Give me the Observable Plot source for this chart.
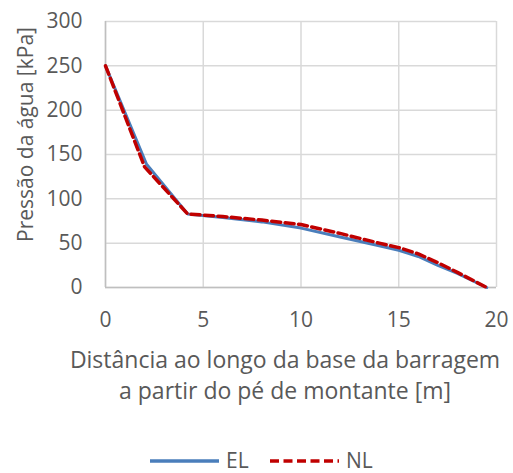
<!DOCTYPE html>
<html><head><meta charset="utf-8">
<script src="https://cdn.jsdelivr.net/npm/d3@7"></script>
<script src="https://cdn.jsdelivr.net/npm/@observablehq/plot@0.6"></script>
<style>
body{margin:0;background:#fff;font-family:"Open Sans",sans-serif}
#chart{position:relative;width:513px;height:473px;overflow:hidden}
#legend{position:absolute;left:0;top:447px;width:513px;height:28px}
</style>
</head><body>
<div id="chart"></div>
<script>
// Data
const seriesNames = ["EL", "NL"];
const distEL = [0, 2.1, 4.2, 6, 8, 10, 12, 14, 15, 16, 17, 18, 19.5];
const presEL = [250, 139, 83, 79, 74, 67, 57, 47, 42, 35, 25, 16, 0];
const distNL = [0, 2.0, 4.2, 6, 8, 10, 12, 14, 15, 16, 17, 18, 19.5];
const presNL = [250, 136, 83, 80, 76, 71, 61, 50, 45, 38, 28, 17, 0];
const xTicks = [0, 5, 10, 15, 20];
const yTicks = [0, 50, 100, 150, 200, 250, 300];
const xTitle = ["Distância ao longo da base da barragem", "a partir do pé de montante [m]"];
const yTitle = "Pressão da água [kPa]";

const colors = {EL: "#4a7ebb", NL: "#c00000"};
const el = distEL.map((d, i) => ({x: d, y: presEL[i], s: "EL"}));
const nl = distNL.map((d, i) => ({x: d, y: presNL[i], s: "NL"}));

const fs = 21;
const font = "'Open Sans', sans-serif";
const plot = Plot.plot({
  width: 513, height: 440, marginLeft: 105, marginRight: 17, marginTop: 21, marginBottom: 153,
  x: {domain: [0, 20], ticks: xTicks},
  y: {domain: [0, 300], ticks: yTicks},
  style: {fontFamily: font, fontSize: fs + "px", color: "#595959", background: "#fff"},
  marks: [
    Plot.gridX(xTicks, {stroke: "#d9d9d9", strokeOpacity: 1, strokeWidth: 1.5}),
    Plot.gridY(yTicks, {stroke: "#d9d9d9", strokeOpacity: 1, strokeWidth: 1.5}),
    Plot.ruleX([0], {stroke: "#bfbfbf", strokeWidth: 1.5}),
    Plot.ruleY([0], {stroke: "#bfbfbf", strokeWidth: 1.5}),
    Plot.axisX(xTicks, {tickSize: 0, tickPadding: 24.5, label: null, fontSize: fs, fill: "#595959"}),
    Plot.axisY(yTicks, {tickSize: 0, tickPadding: 23, label: null, fontSize: fs, fill: "#595959"}),
    Plot.line(el, {x: "x", y: "y", stroke: colors.EL, strokeWidth: 3, strokeLinejoin: "round"}),
    Plot.line(nl, {x: "x", y: "y", stroke: colors.NL, strokeWidth: 3.5, strokeDasharray: "9,4.5"}),
    Plot.text([xTitle[0]], {frameAnchor: "bottom", dx: -16, dy: 73, fontSize: 23, fill: "#595959", textAnchor: "middle", lineAnchor: "middle"}),
    Plot.text([xTitle[1]], {frameAnchor: "bottom", dx: -16, dy: 104, fontSize: 23, fill: "#595959", textAnchor: "middle", lineAnchor: "middle"}),
    Plot.text([yTitle], {frameAnchor: "left", dx: -79, dy: -20, rotate: -90, fontSize: fs, fill: "#595959", textAnchor: "middle", lineAnchor: "middle"})
  ]
});
const chart = document.getElementById("chart");
chart.appendChild(plot);

// Legend
const legend = document.createElement("div");
legend.id = "legend";
const ns = "http://www.w3.org/2000/svg";
const lsvg = document.createElementNS(ns, "svg");
lsvg.setAttribute("width", 513);
lsvg.setAttribute("height", 28);
const items = [
  {name: seriesNames[0], x0: 150, x1: 219, tx: 226, dash: null, w: 3.5},
  {name: seriesNames[1], x0: 270, x1: 339, tx: 346, dash: "9,4.5", w: 3.5}
];
for (const it of items) {
  const ln = document.createElementNS(ns, "line");
  ln.setAttribute("x1", it.x0); ln.setAttribute("x2", it.x1);
  ln.setAttribute("y1", 14); ln.setAttribute("y2", 14);
  ln.setAttribute("stroke", colors[it.name]);
  ln.setAttribute("stroke-width", it.w);
  if (it.dash) ln.setAttribute("stroke-dasharray", it.dash);
  lsvg.appendChild(ln);
  const t = document.createElementNS(ns, "text");
  t.setAttribute("x", it.tx); t.setAttribute("y", 14);
  t.setAttribute("dy", "0.35em");
  t.setAttribute("fill", "#595959");
  t.setAttribute("font-size", fs);
  t.setAttribute("font-family", font);
  t.textContent = it.name;
  lsvg.appendChild(t);
}
legend.appendChild(lsvg);
chart.appendChild(legend);
</script>
</body></html>
